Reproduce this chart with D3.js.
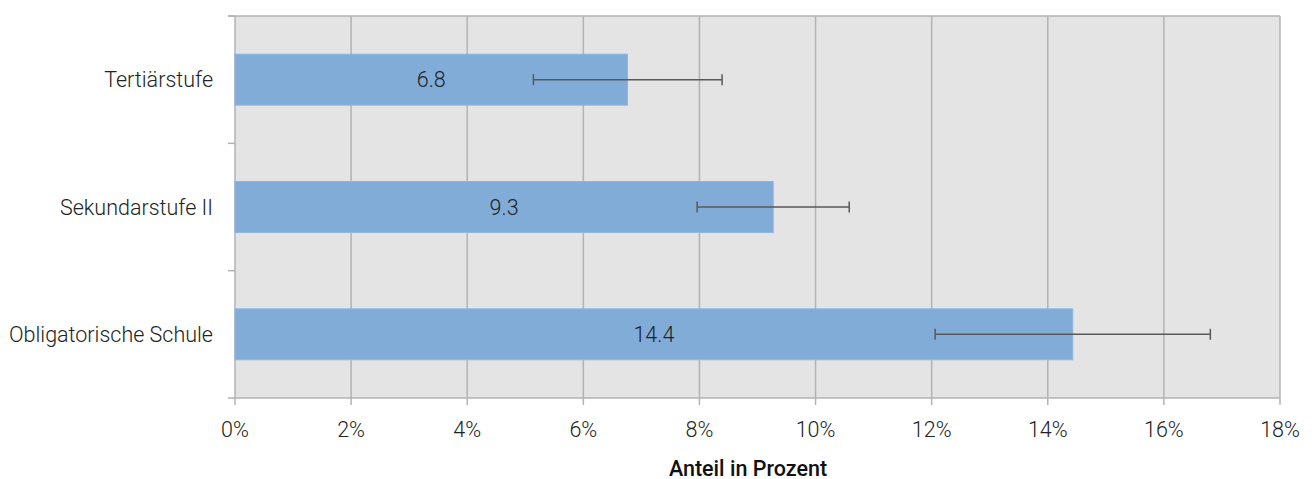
<!DOCTYPE html>
<html><head><meta charset="utf-8">
<script src="https://cdn.jsdelivr.net/npm/d3@7"></script>
<style>
body{margin:0;background:#fff;}
text{font-family:Roboto,"Noto Sans",sans-serif;}
</style></head>
<body><svg id="c" width="1314" height="479"></svg>
<script>
const categories = ["Tertiärstufe","Sekundarstufe II","Obligatorische Schule"];
const values = [6.76, 9.27, 14.43];
const errLow = [5.14, 7.96, 12.06];
const errHigh = [8.39, 10.58, 16.80];
const xTicks = [0,2,4,6,8,10,12,14,16,18];
const xTitle = "Anteil in Prozent";

const svg = d3.select("#c");
const L=235, R=1280, T=16, B=398;
const FS = 21.5;
const x = d3.scaleLinear().domain([0,18]).range([L,R]);
const y = d3.scaleBand().domain(categories).range([T,B]).paddingInner(0.6).paddingOuter(0.3);

svg.append("rect").attr("x",L).attr("y",T).attr("width",R-L).attr("height",B-T).attr("fill","#e4e4e4");

// vertical gridlines
svg.append("g").selectAll("line").data(xTicks).join("line")
  .attr("x1",d=>x(d)).attr("x2",d=>x(d)).attr("y1",T).attr("y2",B+7)
  .attr("stroke","#b3b3b3").attr("stroke-width",1.5);
// top line
svg.append("line").attr("x1",L-7).attr("x2",R).attr("y1",T).attr("y2",T).attr("stroke","#b3b3b3").attr("stroke-width",1.5);
// bottom axis
svg.append("line").attr("x1",L-7).attr("x2",R).attr("y1",B).attr("y2",B).attr("stroke","#b3b3b3").attr("stroke-width",1.5);
// left category ticks
const bounds = [T, T+(B-T)/3, T+2*(B-T)/3];
svg.append("g").selectAll("line").data(bounds).join("line")
  .attr("x1",L-7).attr("x2",L).attr("y1",d=>d).attr("y2",d=>d)
  .attr("stroke","#b3b3b3").attr("stroke-width",1.5);

// bars
svg.append("g").selectAll("rect").data(values).join("rect")
  .attr("x",x(0)).attr("y",(d,i)=>y(categories[i]))
  .attr("width",d=>x(d)-x(0)).attr("height",y.bandwidth())
  .attr("fill","#81acd8").attr("stroke","#8db5de").attr("stroke-width",1);

// value labels
svg.append("g").selectAll("text").data(values).join("text")
  .attr("x",d=>(x(0)+x(d))/2).attr("y",(d,i)=>y(categories[i])+y.bandwidth()/2)
  .attr("dy","0.36em").attr("text-anchor","middle")
  .attr("font-size",FS).attr("font-weight",300).attr("fill","#222")
  .text(d=>d3.format(".1f")(d));

// error bars
const eg = svg.append("g").attr("stroke","#595959").attr("stroke-width",1.5);
categories.forEach((c,i)=>{
  const cy = y(c)+y.bandwidth()/2;
  eg.append("line").attr("x1",x(errLow[i])).attr("x2",x(errHigh[i])).attr("y1",cy).attr("y2",cy);
  [errLow[i],errHigh[i]].forEach(v=>{
    eg.append("line").attr("x1",x(v)).attr("x2",x(v)).attr("y1",cy-5.5).attr("y2",cy+5.5);
  });
});

// category labels
svg.append("g").selectAll("text").data(categories).join("text")
  .attr("x",L-22).attr("y",d=>y(d)+y.bandwidth()/2).attr("dy","0.36em")
  .attr("text-anchor","end").attr("font-size",FS).attr("font-weight",300).attr("fill","#222")
  .text(d=>d);

// tick labels
svg.append("g").selectAll("text").data(xTicks).join("text")
  .attr("x",d=>x(d)).attr("y",429).attr("dy","0.36em").attr("text-anchor","middle")
  .attr("font-size",FS).attr("font-weight",300).attr("fill","#222")
  .text(d=>d+"%");

// axis title
svg.append("text").attr("x",748).attr("y",468).attr("dy","0.36em").attr("text-anchor","middle")
  .attr("font-size",FS).attr("font-weight",500).attr("fill","#111").text(xTitle);
</script></body></html>
